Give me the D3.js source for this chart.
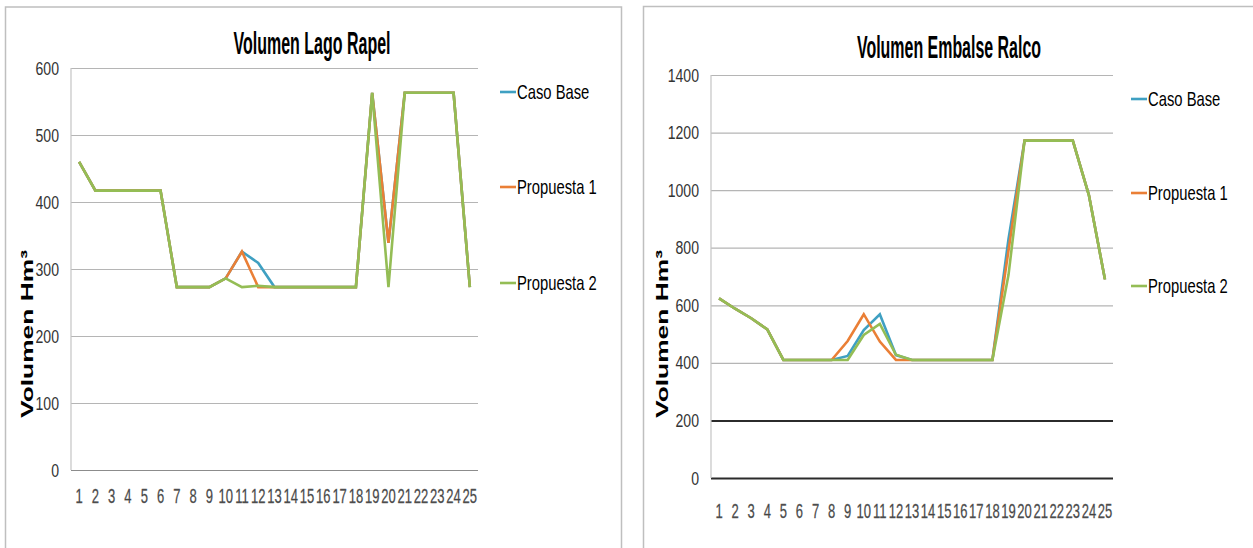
<!DOCTYPE html>
<html>
<head>
<meta charset="utf-8">
<script src="https://cdn.jsdelivr.net/npm/d3@7/dist/d3.min.js"></script>
<style>
  body { margin: 0; background: #fff; }
  text { font-family: "Liberation Sans Narrow", "Arial Narrow", sans-serif; }
</style>
</head>
<body>
<svg id="chart" width="1253" height="548"></svg>
<script>
// periodos (eje x)
var periodos = ["1","2","3","4","5","6","7","8","9","10","11","12","13","14","15","16","17","18","19","20","21","22","23","24","25"];

var series = ["Caso Base", "Propuesta 1", "Propuesta 2"];
var colores = ["#3fa0c2", "#ea7f36", "#94bd55"];

// Volumen Lago Rapel (Hm3)
var rapelBase = [460,417,417,417,417,417,273,273,273,286,326,309,273,273,273,273,273,273,563,339,563,563,563,563,273];
var rapelProp1 = [460,417,417,417,417,417,273,273,273,286,326,273,273,273,273,273,273,273,563,339,563,563,563,563,273];
var rapelProp2 = [460,417,417,417,417,417,273,273,273,286,273,275,273,273,273,273,273,273,563,273,563,563,563,563,273];
var rapelTicks = [0,100,200,300,400,500,600];

// Volumen Embalse Ralco (Hm3)
var ralcoBase = [624,588,555,516,410,410,410,410,424,514,569,427,410,410,410,410,410,410,830,1172,1172,1172,1172,983,690];
var ralcoProp1 = [624,588,555,516,410,410,410,410,476,569,474,410,410,410,410,410,410,410,790,1172,1172,1172,1172,983,690];
var ralcoProp2 = [624,588,555,516,410,410,410,410,410,497,535,428,410,410,410,410,410,410,705,1172,1172,1172,1172,983,690];
var ralcoTicks = [0,200,400,600,800,1000,1200,1400];

var svg = d3.select("#chart");

function drawPanel(opt) {
    var g = svg.append("g");

    // marco del grafico
    g.append("rect")
        .attr("x", opt.frame[0]).attr("y", opt.frame[1])
        .attr("width", opt.frame[2]).attr("height", opt.frame[3])
        .attr("fill", "#fff").attr("stroke", "#bfbfbf").attr("stroke-width", 1.5);

    var x = d3.scalePoint().domain(periodos).range([opt.x0, opt.x1]).padding(0.5);
    var y = d3.scaleLinear().domain([0, d3.max(opt.ticks)]).range([opt.y1, opt.y0]);

    // grilla
    var grid = g.append("g")
        .attr("transform", "translate(" + opt.x0 + ",0)")
        .call(d3.axisLeft(y).tickValues(opt.ticks).tickSize(-(opt.x1 - opt.x0)).tickFormat(""));
    grid.select(".domain").remove();
    grid.selectAll("line")
        .attr("stroke", function (d) { return opt.dark.indexOf(d) >= 0 ? "#2b2b2b" : (d === 0 ? "#8c8c8c" : "#b5b5b5"); })
        .attr("stroke-width", function (d) { return opt.dark.indexOf(d) >= 0 ? 2 : 1.2; });

    // eje vertical
    g.append("line")
        .attr("x1", opt.x0).attr("x2", opt.x0)
        .attr("y1", opt.y0).attr("y2", opt.y1)
        .attr("stroke", "#c4c4c4").attr("stroke-width", 1.2);

    // etiquetas eje y
    g.selectAll(".ytick")
        .data(opt.ticks)
        .enter().append("text")
        .attr("class", "ytick")
        .attr("text-anchor", "end")
        .attr("transform", function (d) { return "translate(" + (opt.x0 - 12) + "," + (y(d) + 6.5) + ") scale(0.76,1)"; })
        .attr("font-size", 18.5)
        .attr("fill", "#333")
        .text(function (d) { return d; });

    // etiquetas eje x
    g.selectAll(".xtick")
        .data(periodos)
        .enter().append("text")
        .attr("class", "xtick")
        .attr("text-anchor", "middle")
        .attr("transform", function (d) { return "translate(" + x(d) + "," + (opt.y1 + opt.xlab) + ") scale(0.62,1)"; })
        .attr("font-size", 21)
        .attr("fill", "#444")
        .attr("stroke", "#666").attr("stroke-width", 0.3)
        .text(function (d) { return d; });

    // titulo
    g.append("text")
        .attr("x", opt.title[1]).attr("y", opt.title[2])
        .attr("text-anchor", "middle")
        .attr("font-size", 31).attr("font-weight", "bold")
        .attr("textLength", opt.title[3]).attr("lengthAdjust", "spacingAndGlyphs")
        .text(opt.title[0]);

    // titulo eje y
    g.append("text")
        .attr("transform", "translate(" + opt.ylab[0] + "," + opt.ylab[1] + ") rotate(-90)")
        .attr("text-anchor", "middle")
        .style("font-family", "'Liberation Sans', Arial, sans-serif")
        .attr("font-size", 17).attr("font-weight", "bold")
        .attr("textLength", 168).attr("lengthAdjust", "spacingAndGlyphs")
        .text("Volumen Hm³");

    // lineas
    var line = d3.line()
        .x(function (d, i) { return x(periodos[i]); })
        .y(function (d) { return y(d); });

    g.selectAll(".serie")
        .data(opt.data)
        .enter().append("path")
        .attr("class", "serie")
        .attr("d", line)
        .attr("fill", "none")
        .attr("stroke", function (d, i) { return colores[i]; })
        .attr("stroke-width", 2.6)
        .attr("stroke-linejoin", "miter");

    // leyenda
    var leg = g.selectAll(".leg")
        .data(series)
        .enter().append("g")
        .attr("class", "leg")
        .attr("transform", function (d, i) { return "translate(" + opt.legend[0] + "," + opt.legend[1 + i] + ")"; });
    leg.append("line")
        .attr("x1", 0).attr("x2", 16)
        .attr("stroke", function (d, i) { return colores[i]; })
        .attr("stroke-width", 2.6);
    leg.append("text")
        .attr("transform", "translate(17,7) scale(0.74,1)")
        .attr("font-size", 20)
        .text(function (d) { return d; });
}

drawPanel({
    frame: [5.5, 7, 616, 560],
    x0: 71, x1: 478, y0: 68, y1: 470,
    ticks: rapelTicks, dark: [],
    data: [rapelBase, rapelProp1, rapelProp2],
    xlab: 33,
    title: ["Volumen Lago Rapel", 312, 54, 157],
    ylab: [33, 334],
    legend: [500, 92, 187, 283]
});

drawPanel({
    frame: [643.5, 6.5, 640, 560],
    x0: 711, x1: 1113, y0: 75, y1: 478,
    ticks: ralcoTicks, dark: [0, 200],
    data: [ralcoBase, ralcoProp1, ralcoProp2],
    xlab: 40,
    title: ["Volumen Embalse Ralco", 949, 58, 184],
    ylab: [668, 334],
    legend: [1131, 99, 193, 286]
});
</script>
</body>
</html>
